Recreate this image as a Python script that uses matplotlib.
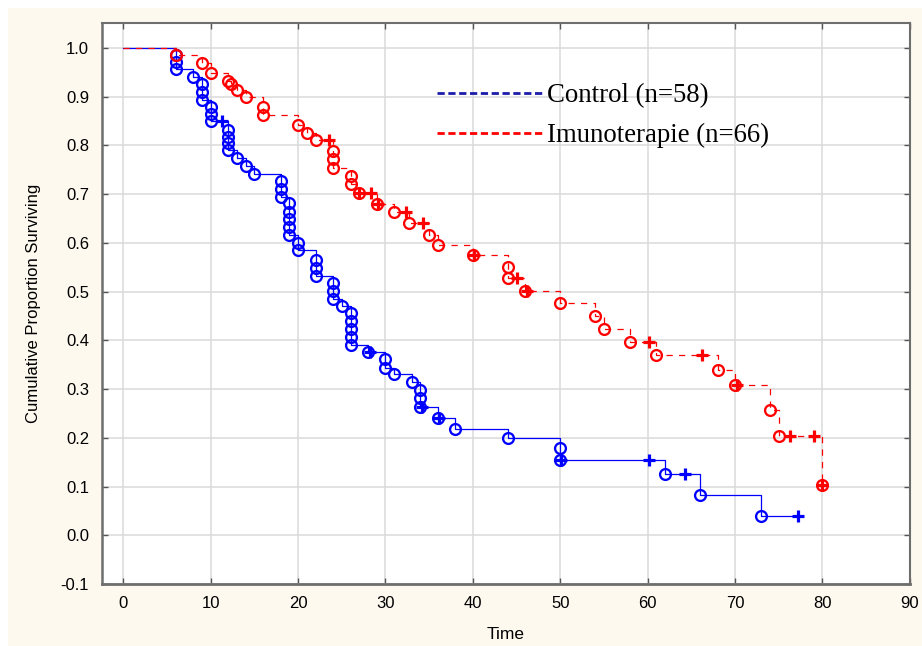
import matplotlib
matplotlib.use('Agg')
import matplotlib.pyplot as plt
from matplotlib.lines import Line2D
from matplotlib.patches import Rectangle

# ---------------- data ----------------
# Control (n=58): complete (death) observations -> circles
ctrl_death_t = [6, 6, 6, 8, 9, 9, 9, 10, 10, 10, 12, 12, 12, 12, 13, 14, 15,
                18, 18, 18, 19, 19, 19, 19, 19, 20, 20, 22, 22, 22, 24, 24, 24,
                25, 26, 26, 26, 26, 26, 28, 30, 30, 31, 33, 34, 34, 34, 36, 38,
                44, 50, 50, 62, 66, 73]
ctrl_death_s = [0.986, 0.972, 0.956, 0.941, 0.925, 0.910, 0.893, 0.879, 0.864,
                0.849, 0.832, 0.818, 0.804, 0.790, 0.774, 0.758, 0.741,
                0.727, 0.711, 0.695, 0.681, 0.664, 0.648, 0.632, 0.616, 0.600,
                0.585, 0.565, 0.548, 0.532, 0.518, 0.502, 0.485,
                0.471, 0.455, 0.439, 0.423, 0.407, 0.390, 0.376, 0.361, 0.344,
                0.331, 0.314, 0.298, 0.281, 0.263, 0.240, 0.219,
                0.199, 0.178, 0.155, 0.125, 0.082, 0.040]
# Control: censored observations -> plus signs
ctrl_cens_t = [11.3, 28.2, 34.2, 36.1, 50.1, 60.1, 64.3, 77.2]
ctrl_cens_s = [0.849, 0.376, 0.263, 0.240, 0.155, 0.155, 0.125, 0.040]

# Imunoterapie (n=66)
imu_death_t = [6, 9, 10, 12, 12.3, 13, 14, 16, 16, 20, 21, 22, 24, 24, 24, 26, 26,
               27, 29, 31, 32.7, 35, 36, 40, 44, 44, 46, 50, 54, 55, 58, 61, 68,
               70, 74, 75, 80]
imu_death_s = [0.985, 0.969, 0.948, 0.933, 0.925, 0.914, 0.899, 0.879, 0.862,
               0.842, 0.825, 0.811, 0.789, 0.771, 0.753, 0.737, 0.720,
               0.702, 0.679, 0.664, 0.641, 0.616, 0.595, 0.575, 0.551, 0.527,
               0.501, 0.477, 0.450, 0.423, 0.397, 0.370, 0.340,
               0.308, 0.257, 0.204, 0.103]
imu_cens_t = [23.5, 27.0, 28.3, 29.1, 32.3, 34.3, 40.1, 45.0, 46.2, 60.1, 66.2,
              70.2, 76.3, 79.0, 80.0]
imu_cens_s = [0.811, 0.702, 0.702, 0.679, 0.664, 0.641, 0.575, 0.527, 0.501,
              0.397, 0.370, 0.308, 0.204, 0.204, 0.103]

labels = ['Control (n=58)', 'Imunoterapie (n=66)']
x_ticks = [0, 10, 20, 30, 40, 50, 60, 70, 80, 90]
y_ticks = [-0.1, 0.0, 0.1, 0.2, 0.3, 0.4, 0.5, 0.6, 0.7, 0.8, 0.9, 1.0]

BLUE = '#0000ff'
RED = '#ff0000'
CREAM = '#fdf9ef'


def step_path(dt, ds, ct, cs):
    pts = [(0.0, 1.0)] + list(zip(dt, ds)) + list(zip(ct, cs))
    pts.sort(key=lambda p: (p[0], -p[1]))
    return [p[0] for p in pts], [p[1] for p in pts]


fig = plt.figure(figsize=(9.22, 6.46), dpi=100, facecolor='white')
fig.patches.append(Rectangle((8 / 922, 0), 1, 1 - 8 / 646, transform=fig.transFigure,
                             facecolor=CREAM, edgecolor='none', zorder=-10))
ax = fig.add_axes([0.1103, 0.0960, 0.8765, 0.8684])
ax.set_facecolor('white')

# step lines
bx, by = step_path(ctrl_death_t, ctrl_death_s, ctrl_cens_t, ctrl_cens_s)
ax.plot(bx, by, drawstyle='steps-post', color=BLUE, lw=0.9, zorder=3)
rx, ry = step_path(imu_death_t, imu_death_s, imu_cens_t, imu_cens_s)
ax.plot(rx, ry, drawstyle='steps-post', color=RED, lw=0.9, dashes=(5, 5), zorder=4)

# markers
ax.plot(ctrl_death_t, ctrl_death_s, ls='none', marker='o', ms=7.8, mew=1.65,
        mfc='none', mec=BLUE, zorder=5)
ax.plot(ctrl_cens_t, ctrl_cens_s, ls='none', marker='+', ms=8.8, mew=2.3,
        color=BLUE, zorder=5)
ax.plot(imu_death_t, imu_death_s, ls='none', marker='o', ms=7.8, mew=1.65,
        mfc='none', mec=RED, zorder=6)
ax.plot(imu_cens_t, imu_cens_s, ls='none', marker='+', ms=8.8, mew=2.3,
        color=RED, zorder=6)

ax.set_xlim(-2.47, 90)
ax.set_ylim(-0.1, 1.051)
ax.set_xticks(x_ticks)
ax.set_yticks(y_ticks)
ax.set_xticklabels([str(v) for v in x_ticks])
ax.set_yticklabels(['%.1f' % v for v in y_ticks])
ax.grid(True, color='#dadada', lw=1.1, zorder=0)
ax.set_axisbelow(True)
ax.tick_params(direction='in', length=4, width=1, color='#555555',
               top=True, right=True, labelsize=12, pad=9)
for lab in ax.get_xticklabels() + ax.get_yticklabels():
    lab.set_fontfamily('Liberation Sans')
for s in ax.spines.values():
    s.set_color('#6e6e6e')
    s.set_linewidth(1.5)
ax.spines['bottom'].set_linewidth(2)
ax.spines['left'].set_linewidth(1.8)

ax.set_xlabel('Time', fontsize=12.5, fontfamily='Liberation Sans', labelpad=11)
ax.set_ylabel('Cumulative Proportion Surviving', fontsize=12,
              fontfamily='Liberation Sans', labelpad=14)

handles = [Line2D([], [], color='#1c1caa', lw=2.0, dashes=(2.6, 1.3)),
           Line2D([], [], color=RED, lw=2.0, dashes=(2.6, 1.3))]
ax.legend(handles, labels, loc='upper left', bbox_to_anchor=(0.4146, 0.893),
          frameon=False, prop={'family': 'Liberation Serif', 'size': 19.3},
          handlelength=4.0, handletextpad=0.1, labelspacing=0.55, borderpad=0,
          borderaxespad=0)

fig.savefig('out.png', dpi=100, facecolor=fig.get_facecolor())
